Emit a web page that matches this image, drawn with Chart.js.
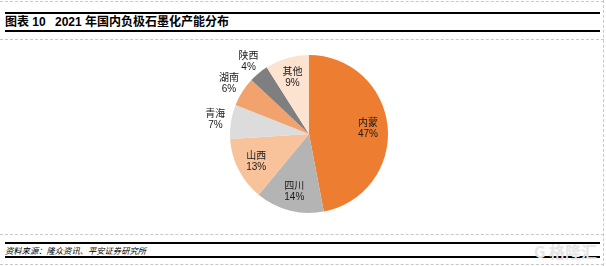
<!DOCTYPE html>
<html><head><meta charset="utf-8">
<script src="https://cdn.jsdelivr.net/npm/chart.js@4"></script>
<style>
html,body{margin:0;padding:0;background:#fff;}
body{width:606px;height:266px;position:relative;overflow:hidden;font-family:"Liberation Sans","Noto Sans CJK SC",sans-serif;}
.dash{position:absolute;border-top:1px dashed #c8c8c8;left:0;width:604px;height:0;}
.vdash{position:absolute;border-left:1px dashed #c8c8c8;top:0;height:266px;width:0;}
.line{position:absolute;left:5px;width:595px;height:0;border-top:2px solid #000;}
.t{position:absolute;top:14px;font-size:12px;font-weight:bold;color:#000;font-family:"Liberation Sans","Noto Sans CJK SC",sans-serif;white-space:nowrap;line-height:16px;}
#src{position:absolute;left:5px;top:244px;font-size:8.3px;font-style:italic;color:#000;font-family:"Noto Sans CJK SC",sans-serif;white-space:nowrap;line-height:12px;}
#wm{position:absolute;left:534px;top:239px;font-size:16px;color:#e6e6e6;font-family:"Noto Sans CJK SC",sans-serif;white-space:nowrap;font-weight:bold;}
#c{position:absolute;left:150px;top:40px;}
</style></head>
<body>
<div class="dash" style="top:1px"></div>
<div class="dash" style="top:39px"></div>
<div class="dash" style="top:234px"></div>
<div class="dash" style="top:264px"></div>
<div class="vdash" style="left:603px"></div>
<div class="line" style="top:12px"></div>
<div class="line" style="top:30px"></div>
<div class="t" style="left:5px">图表 10</div>
<div class="t" style="left:55px">2021 年国内负极石墨化产能分布</div>
<div class="line" style="top:242px"></div>
<div class="line" style="top:256px"></div>
<div id="src">资料来源：隆众资讯、平安证券研究所</div>
<div id="wm">G 格隆汇</div>
<canvas id="c" width="318" height="188"></canvas>
<script>
const categories = ["内蒙","四川","山西","青海","湖南","陕西","其他"];
const shares = [47,14,13,7,6,4,9];
const colors = ["#ED7D31","#B4B4B4","#F8C29A","#DCDCDC","#F2A26C","#7F7F7F","#FCE3D0"];

const labelPlugin = {
  id:'sliceLabels',
  afterDatasetsDraw(chart){
    const ctx = chart.ctx;
    const meta = chart.getDatasetMeta(0);
    ctx.save();
    ctx.textAlign='center';
    ctx.textBaseline='middle';
    ctx.fillStyle='#1a1a1a';
    meta.data.forEach((arc,i)=>{
      const p = arc.getProps(['x','y','startAngle','endAngle','outerRadius'],true);
      const mid = (p.startAngle+p.endAngle)/2;
      const f = shares[i] < 8 ? 1.2 : 0.75;
      const x = p.x + Math.cos(mid)*p.outerRadius*f;
      const y = p.y + Math.sin(mid)*p.outerRadius*f;
      ctx.font = '10px "Noto Sans CJK SC", sans-serif';
      ctx.fillText(categories[i], x, y-6);
      ctx.font = '10px "Liberation Sans", Arial, sans-serif';
      ctx.fillText(shares[i]+'%', x, y+6);
    });
    ctx.restore();
  }
};

new Chart(document.getElementById('c'),{
  type:'pie',
  data:{labels:categories,datasets:[{data:shares,backgroundColor:colors,borderWidth:0}]},
  options:{
    responsive:false,animation:false,
    layout:{padding:{top:15,bottom:15,left:0,right:0}},
    plugins:{legend:{display:false},tooltip:{enabled:false}}
  },
  plugins:[labelPlugin]
});
</script>
</body></html>
